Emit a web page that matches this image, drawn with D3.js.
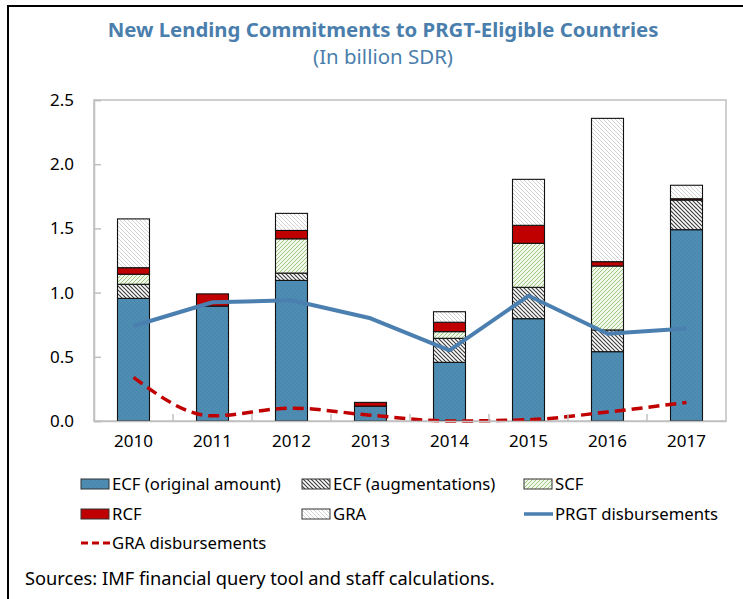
<!DOCTYPE html>
<html>
<head>
<meta charset="utf-8">
<script src="https://cdn.jsdelivr.net/npm/d3@7/dist/d3.min.js"></script>
<style>
  html, body { margin: 0; padding: 0; background: #fff; }
  svg { display: block; }
  text { font-family: "Noto Sans", "Open Sans", sans-serif; }
</style>
</head>
<body>
<svg id="chart" width="743" height="599"></svg>
<script>
// ---- data ----
const years = ["2010", "2011", "2012", "2013", "2014", "2015", "2016", "2017"];
const ecfOriginal = [0.955, 0.895, 1.095, 0.115, 0.457, 0.797, 0.54, 1.49];
const ecfAugmentations = [0.11, 0, 0.057, 0, 0.187, 0.244, 0.169, 0.231];
const scf = [0.078, 0, 0.267, 0, 0.052, 0.343, 0.498, 0];
const rcf = [0.051, 0.095, 0.065, 0.03, 0.073, 0.14, 0.034, 0.01];
const gra = [0.38, 0, 0.133, 0, 0.082, 0.358, 1.116, 0.105];
const prgtDisbursements = [0.74, 0.925, 0.94, 0.80, 0.55, 0.975, 0.68, 0.72];
const graDisbursements = [0.34, 0.04, 0.10, 0.045, 0.0, 0.01, 0.07, 0.145];
const yTicks = [0, 0.5, 1.0, 1.5, 2.0, 2.5];
const seriesNames = ["ECF (original amount)", "ECF (augmentations)", "SCF", "RCF", "GRA"];

(function () {
const svg = d3.select("#chart");
const W = 743, H = 599;
const blue = "#4a7fb0";
const titleColor = "#4a7eac";

// patterns
const defs = svg.append("defs");
function hatch(id, bg, line, lw, spacing, dir) {
  const p = defs.append("pattern").attr("id", id)
    .attr("patternUnits", "userSpaceOnUse")
    .attr("width", spacing).attr("height", spacing);
  p.append("rect").attr("width", spacing).attr("height", spacing).attr("fill", bg);
  const s = spacing;
  if (dir === "back") {
    p.append("path").attr("d", `M0,0 L${s},${s} M${-s},0 L0,${s} M0,${-s} L${s},0 M${s},0 L${2*s},${s} M0,${s} L${s},${2*s}`)
      .attr("stroke", line).attr("stroke-width", lw);
  } else {
    p.append("path").attr("d", `M0,${s} L${s},0 M${-s},${s} L0,0 M0,${2*s} L${s},${s}`)
      .attr("stroke", line).attr("stroke-width", lw);
  }
}
hatch("pEcf", "#4b8ab0", "#5490b3", 1, 4, "back");
hatch("pAug", "#ffffff", "#3a3a3a", 1.1, 4, "back");
hatch("pScf", "#f1f7ea", "#9dc77c", 1, 4, "fwd");
hatch("pGra", "#ffffff", "#d2d2d2", 1, 4, "back");
const fills = ["url(#pEcf)", "url(#pAug)", "url(#pScf)", "#c00000", "url(#pGra)"];

// outer frame
svg.append("line").attr("x1", 8).attr("x2", W).attr("y1", 6).attr("y2", 6)
  .attr("stroke", "#000").attr("stroke-width", 2);
svg.append("line").attr("x1", 8).attr("x2", 8).attr("y1", 5).attr("y2", H)
  .attr("stroke", "#000").attr("stroke-width", 2);

// titles (fit width)
function fitText(sel, target) {
  const w = sel.node().getComputedTextLength();
  const fs = parseFloat(sel.attr("font-size"));
  sel.attr("font-size", fs * target / w);
}
const t1 = svg.append("text").attr("x", 383).attr("y", 37).attr("text-anchor", "middle")
  .attr("font-size", 19).attr("font-weight", "bold").attr("fill", titleColor)
  .text("New Lending Commitments to PRGT-Eligible Countries");
fitText(t1, 551);
const t2 = svg.append("text").attr("x", 383).attr("y", 64).attr("text-anchor", "middle")
  .attr("font-size", 18).attr("fill", titleColor)
  .text("(In billion SDR)");
fitText(t2, 140);

// scales
const pLeft = 94, pRight = 726, pTop = 100, pBottom = 421;
const x = d3.scaleBand().domain(years).range([pLeft, pRight]).paddingInner(0.595).paddingOuter(0.2975);
const y = d3.scaleLinear().domain([0, 2.5]).range([pBottom, pTop]);

// plot frame
const g = svg.append("g");
g.append("rect").attr("x", pLeft).attr("y", pTop).attr("width", pRight - pLeft).attr("height", pBottom - pTop)
  .attr("fill", "none").attr("stroke", "#c0c0c0").attr("stroke-width", 1.5);

// stacked bars
const table = years.map((yr, i) => ({
  year: yr, s0: ecfOriginal[i], s1: ecfAugmentations[i], s2: scf[i], s3: rcf[i], s4: gra[i]
}));
const stack = d3.stack().keys(["s0", "s1", "s2", "s3", "s4"])(table);
stack.forEach((layer, k) => {
  g.selectAll(null).data(layer.filter(d => d[1] - d[0] > 0)).join("rect")
    .attr("x", d => x(d.data.year))
    .attr("width", x.bandwidth())
    .attr("y", d => y(d[1]))
    .attr("height", d => y(d[0]) - y(d[1]))
    .attr("fill", fills[k])
    .attr("stroke", "#111").attr("stroke-width", 1.1);
});

// axes
const yAxis = d3.axisLeft(y).tickValues(yTicks).tickSize(-7).tickPadding(20).tickFormat(d3.format(".1f"));
const ya = svg.append("g").attr("transform", `translate(${pLeft},0)`).call(yAxis);
ya.select(".domain").attr("stroke", "#c0c0c0").attr("stroke-width", 1.5);
ya.selectAll(".tick line").attr("stroke", "#c0c0c0").attr("stroke-width", 1.5);
ya.selectAll(".tick text").attr("font-size", 17).attr("fill", "#000")
  .attr("font-family", "'Noto Sans', sans-serif");

const xAxis = d3.axisBottom(x).tickSize(0).tickPadding(14);
const xa = svg.append("g").attr("transform", `translate(0,${pBottom})`).call(xAxis);
xa.select(".domain").attr("stroke", "#c0c0c0").attr("stroke-width", 1.5);
xa.selectAll(".tick text").attr("font-size", 17).attr("fill", "#000")
  .attr("font-family", "'Noto Sans', sans-serif");
// category boundary ticks
const step = x.step();
xa.selectAll(".bt").data(years.slice(1)).join("line").attr("class", "bt")
  .attr("x1", d => x(d) - (step - x.bandwidth()) / 2)
  .attr("x2", d => x(d) - (step - x.bandwidth()) / 2)
  .attr("y1", 0).attr("y2", -7)
  .attr("stroke", "#c0c0c0").attr("stroke-width", 1.5);

// lines
const cx = d => x(d) + x.bandwidth() / 2;
const prgtLine = d3.line().x((d, i) => cx(years[i])).y(d => y(d));
g.append("path").attr("d", prgtLine(prgtDisbursements))
  .attr("fill", "none").attr("stroke", blue).attr("stroke-width", 4).attr("stroke-linejoin", "round");
const graLine = d3.line().x((d, i) => cx(years[i])).y(d => y(d)).curve(d3.curveMonotoneX);
g.append("path").attr("d", graLine(graDisbursements))
  .attr("fill", "none").attr("stroke", "#c00000").attr("stroke-width", 3.5)
  .attr("stroke-dasharray", "11,6");

// legend
const legendItems = [
  { name: seriesNames[0], type: "rect", fill: fills[0], x: 81, y: 484 },
  { name: seriesNames[1], type: "rect", fill: fills[1], x: 302, y: 484 },
  { name: seriesNames[2], type: "rect", fill: fills[2], x: 524, y: 484 },
  { name: seriesNames[3], type: "rect", fill: fills[3], x: 81, y: 514 },
  { name: seriesNames[4], type: "rect", fill: fills[4], x: 302, y: 514 },
  { name: "PRGT disbursements", type: "line", x: 524, y: 514 },
  { name: "GRA disbursements", type: "dash", x: 81, y: 543 }
];
const lg = svg.append("g");
legendItems.forEach(it => {
  if (it.type === "rect") {
    lg.append("rect").attr("x", it.x).attr("y", it.y - 5).attr("width", 28).attr("height", 10)
      .attr("fill", it.fill).attr("stroke", "#333").attr("stroke-width", 1);
  } else if (it.type === "line") {
    lg.append("line").attr("x1", it.x).attr("x2", it.x + 29).attr("y1", it.y).attr("y2", it.y)
      .attr("stroke", blue).attr("stroke-width", 3.5);
  } else {
    lg.append("line").attr("x1", it.x).attr("x2", it.x + 29).attr("y1", it.y).attr("y2", it.y)
      .attr("stroke", "#c00000").attr("stroke-width", 3).attr("stroke-dasharray", "7,4");
  }
  lg.append("text").attr("x", it.x + 31).attr("y", it.y).attr("dy", "0.35em")
    .attr("font-size", 16.7).attr("fill", "#000").text(it.name);
});

// source
const src = svg.append("text").attr("x", 25).attr("y", 585).attr("font-size", 17).attr("fill", "#000")
  .text("Sources: IMF financial query tool and staff calculations.");
fitText(src, 470);
})();
</script>
</body>
</html>
